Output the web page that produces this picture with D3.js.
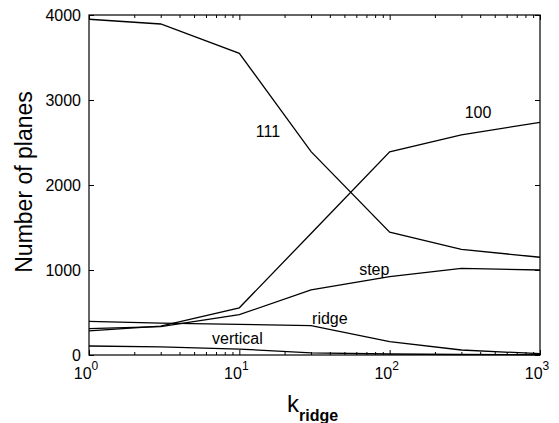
<!DOCTYPE html>
<html><head><meta charset="utf-8">
<script src="https://cdn.jsdelivr.net/npm/d3@7"></script>
<style>body{margin:0;background:#fff}svg{display:block}text{font-family:"Liberation Sans",Arial,Helvetica,sans-serif;fill:#000}</style>
</head><body><svg id="c" width="559" height="423"></svg>
<script>
const kValues = [1, 3, 10, 30, 100, 300, 1000];
const s111 = [3950, 3894, 3549, 2392, 1445, 1243, 1150];
const s100 = [285, 340, 555, 1430, 2390, 2590, 2737];
const sStep = [310, 335, 475, 765, 921, 1020, 1000];
const sRidge = [395, 375, 360, 345, 157, 59, 15];
const sVertical = [106, 95, 70, 25, 12, 6, 3];
const seriesNames = ["111", "100", "step", "ridge", "vertical"];
const yTickValues = [0, 1000, 2000, 3000, 4000];
const xTickExponents = [0, 1, 2, 3];
const labelAnchors = [[15.5, 2635], [387, 2860], [79, 1012], [40, 435], [9.7, 200]];

const W = 559, H = 423, m = {l: 89, r: 19, t: 15, b: 68};
const svg = d3.select("#c");
const x = d3.scaleLog().domain([1, 1000]).range([m.l, W - m.r]);
const y = d3.scaleLinear().domain([0, 4000]).range([H - m.b, m.t]);

const allSeries = [s111, s100, sStep, sRidge, sVertical];
const line = d3.line().x((d, i) => x(kValues[i])).y(d => y(d));
allSeries.forEach(s => {
  svg.append("path").datum(s).attr("d", line).attr("fill", "none")
    .attr("stroke", "#000").attr("stroke-width", 1.3);
});

// frame
svg.append("rect").attr("x", m.l).attr("y", m.t).attr("width", W - m.r - m.l).attr("height", H - m.b - m.t)
  .attr("fill", "none").attr("stroke", "#000").attr("stroke-width", 1.2);

const major = xTickExponents.map(e => Math.pow(10, e));
const minor = x.ticks().filter(v => !major.includes(v));
function xAx(g, axisFn, vals, len) {
  g.call(axisFn(x).tickValues(vals).tickSize(len).tickFormat(""));
  g.select(".domain").remove();
  g.selectAll("line").attr("stroke", "#000");
}
svg.append("g").attr("transform", `translate(0,${H - m.b})`).call(g => xAx(g, d3.axisBottom, minor, -3));
svg.append("g").attr("transform", `translate(0,${H - m.b})`).call(g => xAx(g, d3.axisBottom, major, -5));
svg.append("g").attr("transform", `translate(0,${m.t})`).call(g => xAx(g, d3.axisTop, minor, -3));
svg.append("g").attr("transform", `translate(0,${m.t})`).call(g => xAx(g, d3.axisTop, major, -5));

// y axes
const yl = svg.append("g").attr("transform", `translate(${m.l},0)`)
  .call(d3.axisLeft(y).tickValues(yTickValues).tickSize(-5).tickPadding(8).tickFormat(d3.format("d")));
yl.select(".domain").remove();
yl.selectAll("text").attr("font-size", 16).attr("font-family", "Liberation Sans, Arial, sans-serif").attr("fill", "#000");
yl.selectAll("line").attr("stroke", "#000");
const yr = svg.append("g").attr("transform", `translate(${W - m.r},0)`)
  .call(d3.axisRight(y).tickValues(yTickValues).tickSize(-5).tickFormat(""));
yr.select(".domain").remove();
yr.selectAll("line").attr("stroke", "#000");

// x tick labels with superscripts
xTickExponents.forEach(e => {
  const t = svg.append("text").attr("x", x(Math.pow(10, e)) - 3).attr("y", H - m.b + 24)
    .attr("text-anchor", "middle").attr("font-size", 16);
  t.append("tspan").text("10");
  t.append("tspan").attr("dy", -9).attr("font-size", 12).text(String(e));
});

// axis titles
svg.append("text").attr("transform", `translate(32,182) rotate(-90)`)
  .attr("text-anchor", "middle").attr("font-size", 23).text("Number of planes");
const xt = svg.append("text").attr("x", 287).attr("y", 412).attr("font-size", 24);
xt.append("tspan").text("k");
xt.append("tspan").attr("dy", 9).attr("font-size", 16).attr("font-weight", "bold").text("ridge");

// inline labels
seriesNames.forEach((n, i) => {
  svg.append("text").attr("x", x(labelAnchors[i][0])).attr("y", y(labelAnchors[i][1]) + 6)
    .attr("text-anchor", "middle").attr("font-size", 16).text(n);
});
</script></body></html>
